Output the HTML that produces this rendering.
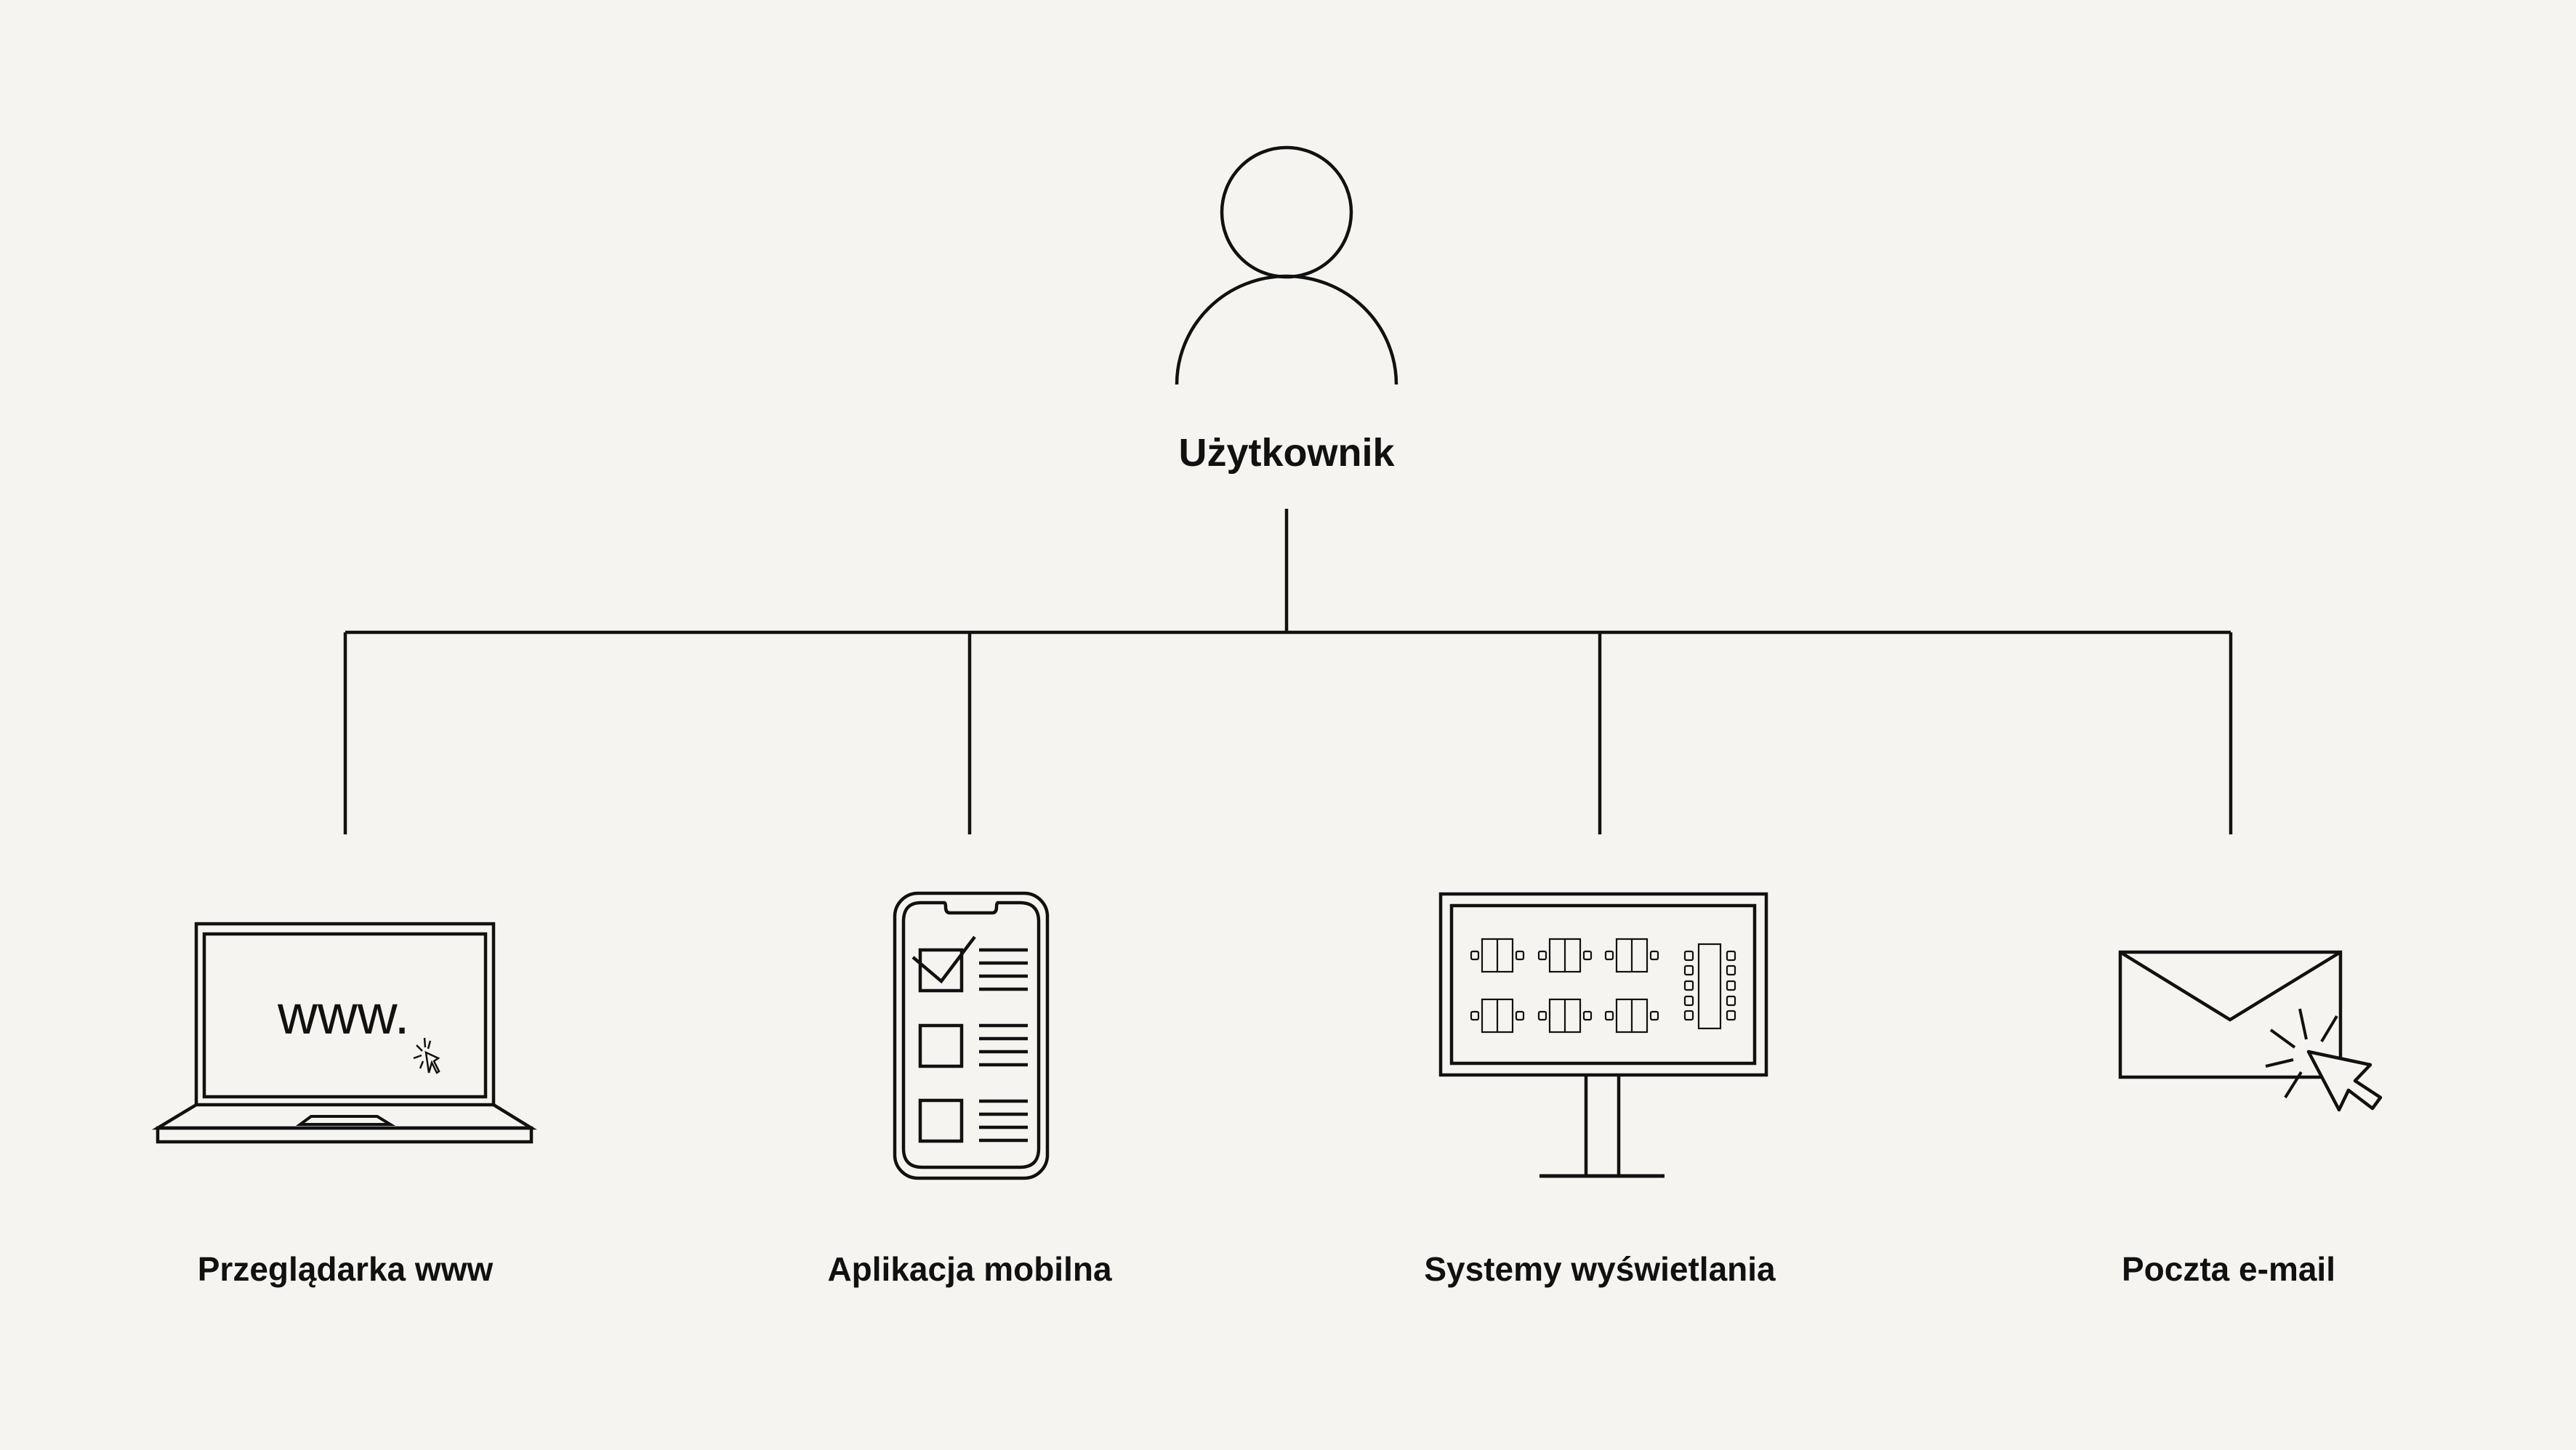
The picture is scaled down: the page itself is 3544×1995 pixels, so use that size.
<!DOCTYPE html>
<html><head><meta charset="utf-8"><style>
html,body{margin:0;padding:0;background:#f5f4f0;}
svg{display:block}
text{font-family:"Liberation Sans",sans-serif;font-weight:bold;fill:#111}
</style></head><body>
<svg width="3544" height="1995" viewBox="0 0 3544 1995" xmlns="http://www.w3.org/2000/svg">
<rect width="3544" height="1995" fill="#f5f4f0"/>
<g fill="none" stroke="#111" stroke-width="4.5">
<!-- user -->
<circle cx="1770" cy="292" r="89"/>
<path d="M1619 529 A151 149 0 0 1 1921 529"/>
<!-- connectors -->
<path d="M1770 700 V870 M475 870 H3069 M475 870 V1148 M1334 870 V1148 M2201 870 V1148 M3069 870 V1148"/>
<!-- laptop -->
<rect x="270" y="1271" width="409" height="249"/>
<rect x="281" y="1285" width="387" height="224"/>
<path d="M270 1520 L217 1552 H731 L679 1520"/>
<rect x="217" y="1552" width="514" height="19"/>
<path d="M428 1536 H519 L537 1547 H413 Z" stroke-width="4"/>
</g>
<text x="382" y="1422" font-size="76" style="font-weight:normal">www.</text>
<g stroke="#111" stroke-width="2.5" fill="none">
<path d="M586 1448 L603 1456 L597 1460 L604 1474 L601 1476 L594 1462 L590 1476 Z" fill="#f5f4f0"/>
<path d="M584 1428 L585 1441 M592 1432 L589 1443 M573 1438 L581 1446 M580 1452 L569 1456 M582 1460 L578 1470"/>
</g>
<!-- phone -->
<g fill="none" stroke="#111" stroke-width="4.5">
<rect x="1231" y="1229" width="210" height="392" rx="32"/>
<path d="M1267 1242 H1299 Q1301 1242 1301 1248 Q1301 1256 1307 1256 H1365 Q1371 1256 1371 1248 Q1371 1242 1373 1242 H1403 Q1429 1242 1429 1268 V1580 Q1429 1606 1403 1606 H1269 Q1243 1606 1243 1580 V1268 Q1243 1242 1267 1242 Z"/>
<rect x="1266" y="1307" width="57" height="56"/>
<rect x="1266" y="1411" width="57" height="56"/>
<rect x="1266" y="1514" width="57" height="56"/>
<path d="M1256 1317 L1295 1350 L1341 1289"/>
<path d="M1347 1307H1414M1347 1325H1414M1347 1343H1414M1347 1361H1414 M1347 1411H1414M1347 1429H1414M1347 1447H1414M1347 1465H1414 M1347 1515H1414M1347 1533H1414M1347 1551H1414M1347 1569H1414"/>
</g>
<!-- monitor -->
<g fill="none" stroke="#111" stroke-width="4.5">
<rect x="1982" y="1230" width="448" height="249"/>
<rect x="1997" y="1246" width="417" height="217"/>
<path d="M2182 1479 V1617 M2227 1479 V1617"/>
<path d="M2118 1618 H2290" stroke-width="5"/>
</g>
<g fill="none" stroke="#111" stroke-width="2.2">
<g id="t1">
<rect x="2039" y="1292" width="42" height="45"/><path d="M2060 1292V1337"/>
<rect x="2024" y="1309" width="10" height="11" rx="2"/><rect x="2086" y="1309" width="10" height="11" rx="2"/>
</g>
<use href="#t1" x="93"/><use href="#t1" x="185"/>
<use href="#t1" y="83"/><use href="#t1" x="93" y="83"/><use href="#t1" x="185" y="83"/>
<rect x="2337" y="1299" width="30" height="116"/>
<g id="c1"><rect x="2318" y="1309" width="11" height="12" rx="2"/><rect x="2376" y="1309" width="11" height="12" rx="2"/></g>
<use href="#c1" y="20"/><use href="#c1" y="41"/><use href="#c1" y="62"/><use href="#c1" y="82"/>
</g>
<!-- envelope -->
<g fill="none" stroke="#111" stroke-width="4.5">
<rect x="2917" y="1310" width="303" height="172"/>
<path d="M2917 1310 L3068 1403 L3220 1310"/>
<path d="M3176 1447 L3261 1465 L3240 1487 L3275 1510 L3264 1525 L3231 1500 L3218 1527 Z" fill="#f5f4f0" stroke-linejoin="round"/>
<path d="M3164 1388L3173 1430 M3215 1398L3194 1433 M3124 1417L3157 1441 M3155 1458L3117 1467 M3166 1475L3144 1510" stroke-width="4"/>
</g>
<!-- labels -->
<text x="1770" y="641" font-size="54" text-anchor="middle">Użytkownik</text>
<text x="475" y="1762" font-size="46" text-anchor="middle">Przeglądarka www</text>
<text x="1334" y="1762" font-size="46" text-anchor="middle">Aplikacja mobilna</text>
<text x="2201" y="1762" font-size="46" text-anchor="middle">Systemy wyświetlania</text>
<text x="3066" y="1762" font-size="46" text-anchor="middle">Poczta e-mail</text>
</svg>
</body></html>
